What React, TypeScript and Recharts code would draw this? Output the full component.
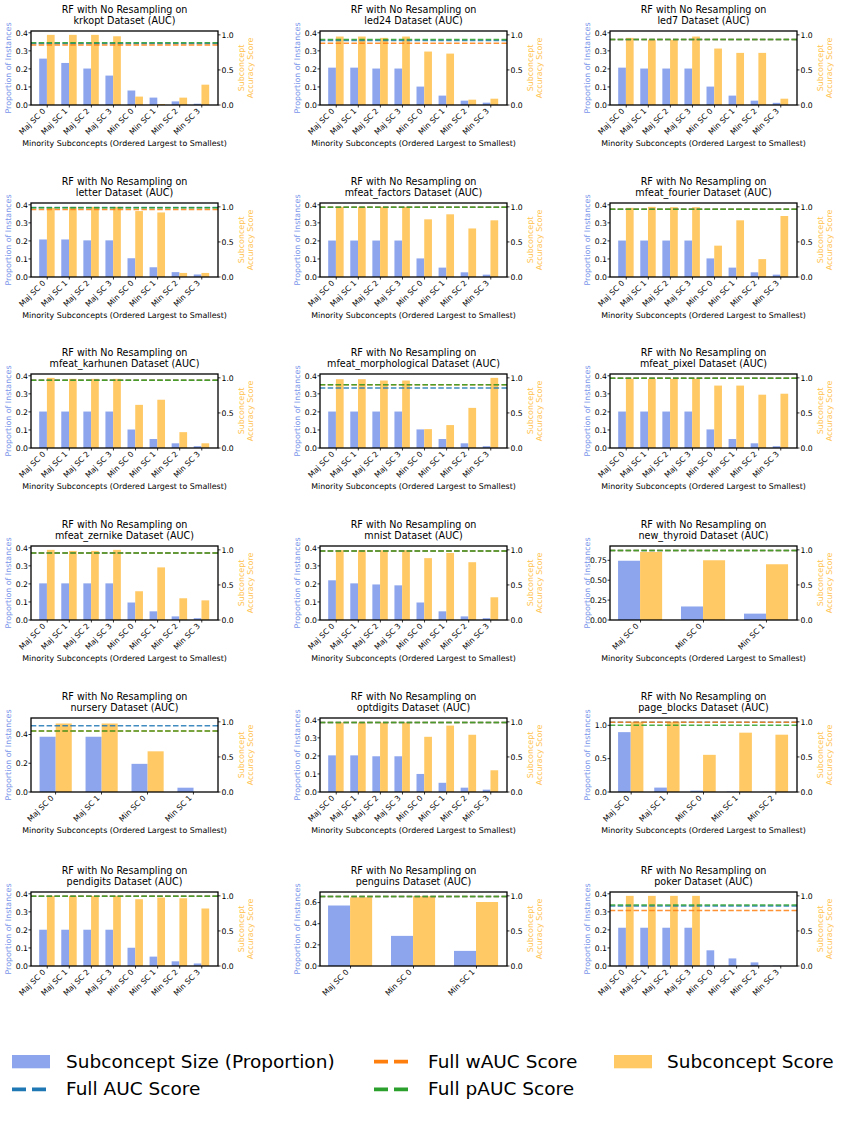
import React from "react"
import { Bar, ComposedChart, ReferenceLine, XAxis, YAxis } from "recharts"

const FONT = "'DejaVu Sans', 'Liberation Sans', sans-serif"

const DATASETS = [
  "krkopt", "led24", "led7",
  "letter", "mfeat_factors", "mfeat_fourier",
  "mfeat_karhunen", "mfeat_morphological", "mfeat_pixel",
  "mfeat_zernike", "mnist", "new_thyroid",
  "nursery", "optdigits", "page_blocks",
  "pendigits", "penguins", "poker",
]

const EIGHT = ["Maj SC 0", "Maj SC 1", "Maj SC 2", "Maj SC 3", "Min SC 0", "Min SC 1", "Min SC 2", "Min SC 3"]
const THREE = ["Maj SC 0", "Min SC 0", "Min SC 1"]
const FOUR = ["Maj SC 0", "Maj SC 1", "Min SC 0", "Min SC 1"]
const FIVE = ["Maj SC 0", "Maj SC 1", "Min SC 0", "Min SC 1", "Min SC 2"]

const SUBCONCEPTS = [
  EIGHT, EIGHT, EIGHT,
  EIGHT, EIGHT, EIGHT,
  EIGHT, EIGHT, EIGHT,
  EIGHT, EIGHT, THREE,
  FOUR, EIGHT, FIVE,
  EIGHT, THREE, EIGHT,
]

// subconcept size as a proportion of all instances
const SIZES = [
  [0.257, 0.233, 0.202, 0.163, 0.08, 0.041, 0.02, 0.007],
  [0.207, 0.207, 0.202, 0.202, 0.102, 0.052, 0.024, 0.013],
  [0.207, 0.202, 0.202, 0.202, 0.102, 0.052, 0.024, 0.012],
  [0.208, 0.208, 0.203, 0.203, 0.104, 0.054, 0.027, 0.014],
  [0.202, 0.202, 0.202, 0.202, 0.103, 0.052, 0.026, 0.013],
  [0.202, 0.202, 0.202, 0.202, 0.103, 0.052, 0.026, 0.013],
  [0.202, 0.202, 0.202, 0.202, 0.103, 0.05, 0.026, 0.01],
  [0.202, 0.202, 0.202, 0.202, 0.103, 0.05, 0.026, 0.01],
  [0.202, 0.202, 0.202, 0.202, 0.103, 0.05, 0.026, 0.01],
  [0.203, 0.203, 0.203, 0.203, 0.097, 0.048, 0.02, 0.01],
  [0.22, 0.203, 0.197, 0.192, 0.097, 0.048, 0.02, 0.01],
  [0.745, 0.17, 0.08],
  [0.384, 0.384, 0.196, 0.03],
  [0.203, 0.203, 0.198, 0.198, 0.1, 0.051, 0.024, 0.013],
  [0.898, 0.066, 0.02, 0.006, 0.004],
  [0.201, 0.201, 0.201, 0.201, 0.101, 0.052, 0.026, 0.014],
  [0.572, 0.285, 0.143],
  [0.212, 0.212, 0.212, 0.212, 0.087, 0.042, 0.02, 0.002],
]

// per-subconcept accuracy score
const SCORES = [
  [1.0, 1.0, 1.0, 0.98, 0.12, 0.014, 0.105, 0.29],
  [0.976, 0.976, 0.957, 0.976, 0.762, 0.733, 0.076, 0.09],
  [0.957, 0.93, 0.93, 0.976, 0.805, 0.743, 0.743, 0.09],
  [0.986, 1.0, 1.0, 1.0, 0.94, 0.92, 0.058, 0.058],
  [1.0, 1.0, 1.0, 1.0, 0.822, 0.894, 0.692, 0.808],
  [0.986, 1.0, 0.995, 0.995, 0.447, 0.808, 0.255, 0.87],
  [1.0, 0.986, 0.986, 0.986, 0.615, 0.688, 0.226, 0.067],
  [0.981, 0.981, 0.962, 0.962, 0.269, 0.327, 0.572, 1.0],
  [0.986, 0.986, 0.986, 0.986, 0.89, 0.89, 0.76, 0.774],
  [1.0, 0.985, 0.985, 1.0, 0.41, 0.75, 0.31, 0.28],
  [0.995, 0.995, 0.995, 0.995, 0.882, 0.956, 0.824, 0.324],
  [0.97, 0.853, 0.794],
  [0.976, 0.976, 0.58, 0],
  [0.99, 0.99, 0.99, 0.99, 0.787, 0.947, 0.816, 0.31],
  [1.0, 1.0, 0.53, 0.846, 0.817],
  [1.0, 1.0, 1.0, 1.0, 0.952, 0.976, 0.966, 0.82],
  [0.98, 0.995, 0.913],
  [1.0, 1.0, 1.0, 1.0, 0, 0, 0, 0],
]

// whole-dataset scores drawn as dashed reference lines
const FULL_AUC = [0.878, 0.919, 0.934, 0.99, 0.995, 0.966, 0.966, 0.856, 0.995, 0.956, 0.985, 0.99, 0.943, 0.99, 0.995, 0.995, 0.99, 0.855]
const FULL_WAUC = [0.855, 0.881, 0.933, 0.962, 0.994, 0.966, 0.966, 0.9, 0.995, 0.956, 0.985, 0.99, 0.871, 0.99, 0.995, 0.995, 0.99, 0.79]
const FULL_PAUC = [0.888, 0.933, 0.935, 0.988, 0.995, 0.966, 0.966, 0.9, 0.995, 0.956, 0.985, 0.99, 0.871, 0.99, 0.95, 0.995, 0.99, 0.87]

// left axis upper limit and ticks
const SIZE_AXIS_MAX = [0.41, 0.41, 0.41, 0.41, 0.41, 0.41, 0.41, 0.41, 0.41, 0.41, 0.41, 0.93, 0.515, 0.41, 1.11, 0.41, 0.7, 0.41]
const TICKS_TENTHS = [0, 0.1, 0.2, 0.3, 0.4]
const SIZE_TICKS = [
  TICKS_TENTHS, TICKS_TENTHS, TICKS_TENTHS,
  TICKS_TENTHS, TICKS_TENTHS, TICKS_TENTHS,
  TICKS_TENTHS, TICKS_TENTHS, TICKS_TENTHS,
  TICKS_TENTHS, TICKS_TENTHS, [0, 0.25, 0.5, 0.75],
  [0, 0.2, 0.4], TICKS_TENTHS, [0, 0.5, 1.0],
  TICKS_TENTHS, [0, 0.2, 0.4, 0.6], TICKS_TENTHS,
]
const SCORE_AXIS_MAX = 1.055
const SCORE_TICKS = [0, 0.5, 1.0]

const SIZE_COLOR = "#8da5ed"
const SCORE_COLOR = "#ffc966"
const AUC_COLOR = "#1f77b4"
const WAUC_COLOR = "#ff7f0e"
const PAUC_COLOR = "#2ca02c"
const SIZE_LABEL_COLOR = "#7a96ea"
const SCORE_LABEL_COLOR = "#ffc24d"

const COL_LEFT = [31, 319.5, 610]
const ROW_TOP = [30.5, 203, 374, 546, 718, 892]
const PLOT_W = 187
const PLOT_H = 74
const M_LEFT = 31
const M_TOP = 31
const M_RIGHT = 63
const M_BOTTOM = 67
const CHART_W = M_LEFT + PLOT_W + M_RIGHT
const CHART_H = M_TOP + PLOT_H + M_BOTTOM

const TICK_FONT = 7.7
const LABEL_FONT = 7.9
const TITLE_FONT = 9.6

const SlantTick = (props: any) => {
  const { x, y, payload } = props
  const ex = x - 1.3
  const ey = y + 2
  return (
    <text
      x={ex}
      y={ey}
      transform={`rotate(-45 ${ex} ${ey})`}
      textAnchor="end"
      fontSize={TICK_FONT}
      fontFamily={FONT}
      fill="#000"
    >
      {payload.value}
    </text>
  )
}

const Panel = ({ idx }: { idx: number }) => {
  const cats = SUBCONCEPTS[idx]
  const n = cats.length
  const data = cats.map((name, i) => ({ name, size: SIZES[idx][i], score: SCORES[idx][i] }))

  // bars sit at ±0.35 around each slot, axis padded by 5% like matplotlib
  const half = 0.35 + 0.05 * (n - 1 + 0.7)
  const pitch = PLOT_W / (n - 1 + 2 * half)
  const pad = (half - 0.5) * pitch
  const barW = 0.35 * pitch

  const row = Math.floor(idx / 3)
  const col = idx % 3
  const left = COL_LEFT[col] - M_LEFT
  const top = ROW_TOP[row] - M_TOP

  const ticks = SIZE_TICKS[idx]
  const decimals = ticks.some((t) => Math.abs(t * 10 - Math.round(t * 10)) > 1e-6) ? 2 : 1
  const cx = M_LEFT + PLOT_W / 2
  const cy = M_TOP + PLOT_H / 2
  const tickStyle = { fontSize: TICK_FONT, fill: "#000", fontFamily: FONT }

  return (
    <div style={{ position: "absolute", left, top, width: CHART_W, height: CHART_H }}>
      <ComposedChart
        width={CHART_W}
        height={CHART_H}
        data={data}
        barGap={0}
        margin={{ top: M_TOP, right: 0, bottom: 0, left: 0 }}
      >
        <XAxis
          dataKey="name"
          height={M_BOTTOM}
          padding={{ left: pad, right: pad }}
          interval={0}
          tickSize={2.5}
          tickMargin={2}
          tickLine={{ stroke: "#000", strokeWidth: 0.8 }}
          axisLine={false}
          tick={<SlantTick />}
        />
        <YAxis
          yAxisId="l"
          width={M_LEFT}
          domain={[0, SIZE_AXIS_MAX[idx]]}
          ticks={ticks}
          interval={0}
          allowDataOverflow
          tickFormatter={(v: number) => v.toFixed(decimals)}
          tickSize={2.5}
          tickMargin={0.5}
          tickLine={{ stroke: "#000", strokeWidth: 0.8 }}
          axisLine={false}
          tick={tickStyle}
        />
        <YAxis
          yAxisId="r"
          orientation="right"
          width={M_RIGHT}
          domain={[0, SCORE_AXIS_MAX]}
          ticks={SCORE_TICKS}
          interval={0}
          allowDataOverflow
          tickFormatter={(v: number) => v.toFixed(1)}
          tickSize={2.5}
          tickMargin={1}
          tickLine={{ stroke: "#000", strokeWidth: 0.8 }}
          axisLine={false}
          tick={tickStyle}
        />
        <Bar dataKey="size" yAxisId="l" fill={SIZE_COLOR} barSize={barW} isAnimationActive={false} />
        <Bar dataKey="score" yAxisId="r" fill={SCORE_COLOR} barSize={barW} isAnimationActive={false} />
        <ReferenceLine yAxisId="r" y={FULL_AUC[idx]} stroke={AUC_COLOR} strokeWidth={1.5} strokeDasharray="5.5 2.4" strokeOpacity={0.85} />
        <ReferenceLine yAxisId="r" y={FULL_WAUC[idx]} stroke={WAUC_COLOR} strokeWidth={1.5} strokeDasharray="5.5 2.4" strokeOpacity={0.85} />
        <ReferenceLine yAxisId="r" y={FULL_PAUC[idx]} stroke={PAUC_COLOR} strokeWidth={1.5} strokeDasharray="5.5 2.4" strokeOpacity={0.85} />
      </ComposedChart>
      <svg
        width={CHART_W}
        height={CHART_H}
        style={{ position: "absolute", left: 0, top: 0, pointerEvents: "none" }}
        fontFamily={FONT}
      >
        <rect x={M_LEFT} y={M_TOP} width={PLOT_W} height={PLOT_H} fill="none" stroke="#000" strokeWidth={1.3} />
        <text x={cx} y={M_TOP - 17.6} textAnchor="middle" fontSize={TITLE_FONT} fill="#000">
          RF with No Resampling on
        </text>
        <text x={cx} y={M_TOP - 6.9} textAnchor="middle" fontSize={TITLE_FONT} fill="#000">
          {DATASETS[idx]} Dataset (AUC)
        </text>
        <text
          transform={`translate(${M_LEFT - 22.5} ${cy}) rotate(-90)`}
          textAnchor="middle"
          dominantBaseline="central"
          fontSize={LABEL_FONT}
          fill={SIZE_LABEL_COLOR}
        >
          Proportion of Instances
        </text>
        <text
          transform={`translate(${M_LEFT + PLOT_W + 23} ${cy}) rotate(-90)`}
          textAnchor="middle"
          dominantBaseline="central"
          fontSize={LABEL_FONT}
          fill={SCORE_LABEL_COLOR}
        >
          Subconcept
        </text>
        <text
          transform={`translate(${M_LEFT + PLOT_W + 32} ${cy}) rotate(-90)`}
          textAnchor="middle"
          dominantBaseline="central"
          fontSize={LABEL_FONT}
          fill={SCORE_LABEL_COLOR}
        >
          Accuracy Score
        </text>
        {row < 5 && (
          <text x={cx} y={M_TOP + PLOT_H + 41} textAnchor="middle" fontSize={LABEL_FONT} fill="#000">
            Minority Subconcepts (Ordered Largest to Smallest)
          </text>
        )}
      </svg>
    </div>
  )
}

const LEGEND_FONT = 18.5

const Legend = () => (
  <svg
    width={844}
    height={80}
    style={{ position: "absolute", left: 0, top: 1040 }}
    fontFamily={FONT}
    fontSize={LEGEND_FONT}
  >
    <rect x={12} y={15} width={38} height={13.3} fill={SIZE_COLOR} />
    <text x={66} y={28.3} fill="#000">Subconcept Size (Proportion)</text>
    <line x1={12} x2={48} y1={49.3} y2={49.3} stroke={AUC_COLOR} strokeWidth={3.8} strokeDasharray="14 6" />
    <text x={66} y={55.3} fill="#000">Full AUC Score</text>
    <line x1={374} x2={410} y1={21.7} y2={21.7} stroke={WAUC_COLOR} strokeWidth={3.8} strokeDasharray="14 6" />
    <text x={428} y={28.3} fill="#000">Full wAUC Score</text>
    <line x1={374} x2={410} y1={49.3} y2={49.3} stroke={PAUC_COLOR} strokeWidth={3.8} strokeDasharray="14 6" />
    <text x={428} y={55.3} fill="#000">Full pAUC Score</text>
    <rect x={614} y={15} width={38} height={13.3} fill={SCORE_COLOR} />
    <text x={667} y={28.3} fill="#000">Subconcept Score</text>
  </svg>
)

export default function App() {
  return (
    <div style={{ position: "absolute", left: 0, top: 0, width: 844, height: 1131, background: "#fff" }}>
      {DATASETS.map((_, i) => (
        <Panel key={i} idx={i} />
      ))}
      <Legend />
    </div>
  )
}
